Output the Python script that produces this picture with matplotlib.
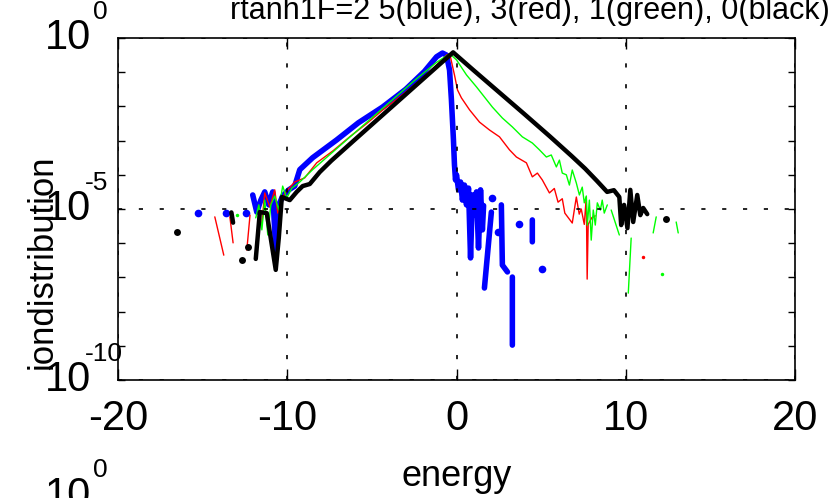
import numpy as np
import matplotlib
matplotlib.use("Agg")
import matplotlib.pyplot as plt
from matplotlib.ticker import FixedLocator, NullFormatter

FONT = ["Liberation Sans Narrow", "Liberation Sans", "DejaVu Sans"]
plt.rcParams["font.family"] = FONT

TITLE = "rtanh1F=2 5(blue), 3(red), 1(green), 0(black)"
XLABEL = "energy"
YLABEL = "iondistribution"
XTICKS = [-20, -10, 0, 10, 20]
YTICK_EXP = [0, -5, -10]

nan = np.nan

# energy / log10(distribution), NaN = gap in the line
BLUE_E = [-12.04, -11.8, -11.56, -11.33, -11.09, -10.86, -10.68, -10.5, -10.27,
          -9.91, -9.56, -9.26, -8.5, -7.08, -5.8, -4.37, -3.0, -1.9, -1.18,
          -0.83, -0.59, -0.41, -0.3, -0.18, -0.12, -0.06, 0.0, 0.12, 0.24, 0.35,
          0.47, 0.59, 0.71, 0.83, 0.94, 1.06, 1.18, 1.3, 1.42, 1.53, 1.6,
          nan, 2.06, 1.65, nan, 2.65, 2.71, 3.01, nan, 3.30, 3.30, nan, 4.48, 4.48]
BLUE_LOG = [-4.59, -5.09, -4.74, -4.5, -4.88, -4.5, -6.2, -4.88, -4.62,
            -4.44, -4.33, -3.85, -3.5, -2.98, -2.48, -2.02, -1.5, -0.98, -0.55,
            -0.44, -0.5, -0.94, -1.81, -2.98, -3.71, -4.15, -4.0, -4.44, -4.21, -4.74,
            -4.3, -4.88, -4.39, -6.43, -4.59, -5.18, -4.5, -6.14, -4.44, -5.61, -4.9,
            nan, -5.09, -7.31, nan, -4.88, -6.64, -6.84, nan, -6.99, -8.98, nan, -5.32, -5.96]
BLUE_DOT_E = [-15.3, -13.6, -12.45, 2.12, 2.48, 3.72, 5.07]
BLUE_DOT_LOG = [-5.12, -5.12, -5.12, -4.68, -5.67, -5.44, -6.75]

RED_E = [-14.28, -13.75, nan, -13.39, -13.2, nan, -12.2, -12.39, nan,
         -11.5, -11.33, -11.03, -10.74, -10.56, -10.32, -9.97, -9.56, -8.97,
         -8.26, -7.3, -6.31, -5.3, -4.37, -3.3, -2.36, -1.4, -0.59, -0.4,
         -0.12, 0.06, 0.29, 0.77, 1.36, 1.95, 2.54, 3.13, 3.54, 4.13, 4.48,
         4.78, 5.07, 5.49, 5.78, 6.0, 6.25, 6.4, 6.84, 7.08, 7.25, 7.37, 7.55,
         7.67, 7.72, 7.78, 8.0, 8.2]
RED_LOG = [-5.23, -6.35, nan, -5.23, -5.99, nan, -5.18, -6.2, nan,
           -5.41, -4.53, -4.94, -4.44, -5.12, -4.68, -4.44, -4.21, -4.09,
           -3.65, -3.3, -2.89, -2.5, -2.11, -1.7, -1.32, -0.9, -0.5, -0.46,
           -1.08, -1.52, -1.75, -2.1, -2.46, -2.69, -2.89, -3.27, -3.48, -3.65, -4.06,
           -3.95, -4.15, -4.53, -4.4, -4.8, -4.7, -5.12, -5.41, -4.65, -5.15, -5.0, -5.45,
           -4.65, -7.05, -5.45, -5.25, -5.2]
RED_DOT_E = [11.03]
RED_DOT_LOG = [-6.4]

GREEN_E = [-11.86, -11.68, -11.5, -11.33, -11.15, -10.97, -10.74, -10.5, -10.27,
           -10.03, -9.73, -9.26, -8.5, -7.0, -5.5, -4.0, -2.5, -1.2, -0.4,
           0.0, 0.59, 1.18, 2.12, 2.71, 3.3, 3.89, 4.48, 4.9, 5.31, 5.6, 5.9,
           6.08, 6.25, 6.49, 6.67, 6.84, 7.08, 7.26, 7.43, 7.55, 7.67, 7.73,
           7.85, 7.96, 8.08, 8.2, 8.32, 8.5, 8.61, 8.73, 8.91,
           nan, 9.14, 9.62, nan, 10.32, 10.15, nan, 11.8, 11.62, nan, 12.98, 13.1]
GREEN_LOG = [-5.26, -4.88, -5.61, -4.74, -5.76, -4.88, -4.62, -5.03, -4.33,
             -4.68, -4.39, -4.21, -3.85, -3.2, -2.55, -1.9, -1.25, -0.72, -0.46,
             -0.64, -1.08, -1.43, -2.02, -2.34, -2.6, -2.89, -3.07, -3.27, -3.48, -3.42, -3.77,
             -3.57, -3.95, -4.0, -4.3, -3.86, -4.24, -4.59, -4.36, -4.82, -4.62, -5.47,
             -4.74, -5.91, -5.03, -5.47, -4.82, -5.03, -4.74, -5.12, -4.88,
             nan, -5.03, -5.76, nan, -5.85, -7.46, nan, -5.23, -5.7, nan, -5.38, -5.7]
GREEN_DOT_E = [-12.98, 12.15]
GREEN_DOT_LOG = [-5.18, -6.9]

BLACK_E = [-13.3, -13.2, nan,
           -11.86, -11.62, -11.21, -10.68, -10.5, -10.32, -9.85, -9.44, -9.09,
           -8.67, -8.08, -7.4, -6.0, -4.5, -3.0, -1.5, -0.2, 1.0, 2.5, 4.0, 5.5,
           6.8, 7.6, 8.3, 8.9, 9.3, 9.62, 9.73, 9.9, 10.1, 10.27, 10.44, 10.68,
           10.86, 11.03, 11.27]
BLACK_LOG = [-5.1, -5.4, nan,
             -6.46, -5.09, -5.12, -6.78, -5.85, -4.65, -4.74, -4.5, -4.33,
             -4.27, -3.92, -3.59, -2.97, -2.31, -1.65, -0.99, -0.42, -0.94, -1.58, -2.22, -2.87,
             -3.45, -3.82, -4.18, -4.5, -4.45, -4.65, -5.47, -4.88, -5.56, -4.44, -5.38, -4.59,
             -5.18, -4.97, -5.15]
BLACK_DOT_E = [-16.5, -12.7, -12.3, 12.4]
BLACK_DOT_LOG = [-5.67, -6.5, -6.1, -5.3]

fig = plt.figure(figsize=(8.32, 4.98), dpi=100)
ax = fig.add_axes([118 / 832, 1 - 380 / 498, 677 / 832, 342 / 498])

series = [
    (BLUE_E, BLUE_LOG, BLUE_DOT_E, BLUE_DOT_LOG, (0, 0, 1), 4.0, 5.5),
    (RED_E, RED_LOG, RED_DOT_E, RED_DOT_LOG, (1, 0, 0), 1.0, 2.5),
    (GREEN_E, GREEN_LOG, GREEN_DOT_E, GREEN_DOT_LOG, (0, 1, 0), 1.0, 2.5),
    (BLACK_E, BLACK_LOG, BLACK_DOT_E, BLACK_DOT_LOG, (0, 0, 0), 3.2, 5.0),
]
for e, lg, de, dl, col, lw, ms in series:
    ax.plot(e, 10.0 ** np.array(lg), color=col, lw=lw,
            solid_capstyle="round", solid_joinstyle="round")
    ax.plot(de, 10.0 ** np.array(dl), "o", color=col, ms=ms, mew=0)

ax.set_yscale("log")
ax.set_xlim(-20, 20)
ax.set_ylim(1e-10, 1e0)

ax.set_xticks(XTICKS)
ax.set_xticklabels([str(t) for t in XTICKS])
ax.yaxis.set_major_locator(FixedLocator([10.0 ** k for k in YTICK_EXP]))
ax.yaxis.set_minor_locator(FixedLocator([10.0 ** k for k in range(-10, 1)]))
ax.yaxis.set_major_formatter(NullFormatter())
ax.yaxis.set_minor_formatter(NullFormatter())

ax.tick_params(axis="x", which="major", direction="in", length=8, width=1,
               top=True, labelsize=30, pad=14)
ax.tick_params(axis="y", which="both", direction="in", length=5, width=1,
               right=True)
for s in ax.spines.values():
    s.set_linewidth(1.2)

# dotted grid on the major ticks
ax.grid(True, which="major", color="k", lw=1.2, linestyle=(0, (2.5, 10)))
ax.set_axisbelow(False)

# MATLAB-style "10^k" tick labels
ytr = ax.get_yaxis_transform()
for k in YTICK_EXP:
    ax.text(-27 / 677, 10.0 ** k, "10", transform=ytr, ha="right",
            va="center", fontsize=30)
    xl = -33 / 677 if k < 0 else -25 / 677
    ax.text(xl, 10.0 ** (k + 26 / 34.2), str(k), transform=ytr,
            ha="left", va="center", fontsize=19)

ax.set_xlabel(XLABEL, fontsize=26, labelpad=14)
fig.text(42 / 832, 1 - 262 / 498, YLABEL, rotation=90, ha="center",
         va="center", fontsize=25)
# title sits partly above the top edge, as in the cropped original
fig.text(530 / 832, 1 - 19 / 498, TITLE, ha="center", va="baseline",
         fontsize=22)

# top of the next panel's axis label, cut by the figure edge
fig.text(91 / 832, 1 - 496 / 498, "10", ha="right", va="center", fontsize=30)
fig.text(93 / 832, 1 - 470 / 498, "0", ha="left", va="center", fontsize=19)

fig.savefig("out.png", dpi=100)
